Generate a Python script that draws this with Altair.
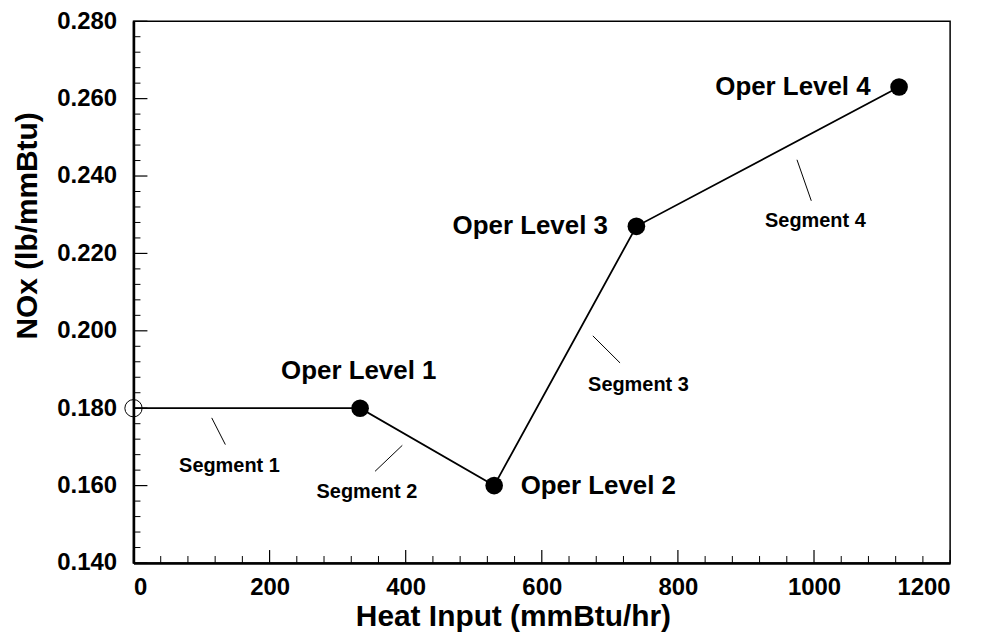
import altair as alt
import pandas as pd

# ---- data ----
heat_input = [0, 333, 530, 739, 1125]
nox = [0.180, 0.180, 0.160, 0.227, 0.263]
point_kind = ["open", "filled", "filled", "filled", "filled"]

level_labels = ["Oper Level 1", "Oper Level 2", "Oper Level 3", "Oper Level 4"]
level_label_x = [331, 683, 583, 969]
level_label_y = [0.1897, 0.1600, 0.2270, 0.2630]

segment_labels = ["Segment 1", "Segment 2", "Segment 3", "Segment 4"]
segment_label_x = [141, 343, 742, 1002]
segment_label_y = [0.1650, 0.1583, 0.1861, 0.2285]
leader_x1 = [115, 395, 675, 975]
leader_y1 = [0.1775, 0.1704, 0.1987, 0.2442]
leader_x2 = [135, 355, 715, 996]
leader_y2 = [0.1706, 0.1637, 0.1917, 0.2336]

x_major = [0, 200, 400, 600, 800, 1000, 1200]
x_minor = [v for v in range(0, 1201, 40) if v % 200 != 0]
y_major = [0.14, 0.16, 0.18, 0.20, 0.22, 0.24, 0.26, 0.28]
y_minor = [round(0.14 + 0.004 * i, 3) for i in range(36) if i % 5 != 0]

W, H = 820, 544
FONT = "Liberation Sans"

xs = alt.Scale(domain=[0, 1200], nice=False, zero=False)
ys = alt.Scale(domain=[0.14, 0.28], nice=False, zero=False)

pts = pd.DataFrame({"x": heat_input, "y": nox, "kind": point_kind})

line = alt.Chart(pts).mark_line(color="black", strokeWidth=1.8).encode(
    x=alt.X("x:Q", scale=xs, title="Heat Input (mmBtu/hr)",
            axis=alt.Axis(values=x_major, ticks=False, tickSize=0, grid=False,
                          labelPadding=13, titlePadding=2, titleX=381, format="d")),
    y=alt.Y("y:Q", scale=ys, title="NOx (lb/mmBtu)",
            axis=alt.Axis(values=y_major, ticks=False, tickSize=0, grid=False,
                          labelPadding=17, titlePadding=14, titleY=205, format=".3f")),
)

filled = alt.Chart(pts).transform_filter(alt.datum.kind == "filled").mark_point(
    filled=True, color="black", size=314, shape="circle", opacity=1
).encode(x=alt.X("x:Q", scale=xs), y=alt.Y("y:Q", scale=ys))

opened = alt.Chart(pts).transform_filter(alt.datum.kind == "open").mark_point(
    filled=False, color="black", size=300, shape="circle", strokeWidth=1, opacity=1
).encode(x=alt.X("x:Q", scale=xs), y=alt.Y("y:Q", scale=ys))

lv = pd.DataFrame({"t": level_labels, "x": level_label_x, "y": level_label_y})
level_text = alt.Chart(lv).mark_text(
    font=FONT, fontSize=26, fontWeight="bold", color="black", align="center", baseline="middle"
).encode(x=alt.X("x:Q", scale=xs), y=alt.Y("y:Q", scale=ys), text="t:N")

sg = pd.DataFrame({"t": segment_labels, "x": segment_label_x, "y": segment_label_y,
                   "x1": leader_x1, "y1": leader_y1, "x2": leader_x2, "y2": leader_y2})
seg_text = alt.Chart(sg).mark_text(
    font=FONT, fontSize=20, fontWeight="bold", color="black", align="center", baseline="middle"
).encode(x=alt.X("x:Q", scale=xs), y=alt.Y("y:Q", scale=ys), text="t:N")
leaders = alt.Chart(sg).mark_rule(color="black", strokeWidth=1).encode(
    x=alt.X("x1:Q", scale=xs), y=alt.Y("y1:Q", scale=ys), x2="x2:Q", y2="y2:Q")

xmaj = alt.Chart(pd.DataFrame({"v": x_major})).mark_rule(color="black", strokeWidth=1.2).encode(
    x=alt.X("v:Q", scale=xs), y=alt.value(H), y2=alt.value(H - 13))
xmin = alt.Chart(pd.DataFrame({"v": x_minor})).mark_rule(color="black", strokeWidth=1).encode(
    x=alt.X("v:Q", scale=xs), y=alt.value(H), y2=alt.value(H - 7))
ymaj = alt.Chart(pd.DataFrame({"v": y_major})).mark_rule(color="black", strokeWidth=1.2).encode(
    y=alt.Y("v:Q", scale=ys), x=alt.value(0), x2=alt.value(14))
ymin = alt.Chart(pd.DataFrame({"v": y_minor})).mark_rule(color="black", strokeWidth=1).encode(
    y=alt.Y("v:Q", scale=ys), x=alt.value(0), x2=alt.value(7))

chart = alt.layer(
    xmin, xmaj, ymin, ymaj, leaders, line, opened, filled, level_text, seg_text
).properties(
    width=W, height=H,
    background="white",
    autosize=alt.AutoSizeParams(type="none"),
    padding={"left": 126, "top": 12, "right": 28, "bottom": 69},
).configure_view(
    stroke="black", strokeWidth=1.5
).configure_axis(
    domainColor="black", domainWidth=2.5, labelColor="black", titleColor="black",
    labelFont=FONT, titleFont=FONT, labelFontWeight="bold", titleFontWeight="bold",
    labelFontSize=24, titleFontSize=30,
)

chart.save("out.html", embed_options={"renderer": "svg", "actions": False})
